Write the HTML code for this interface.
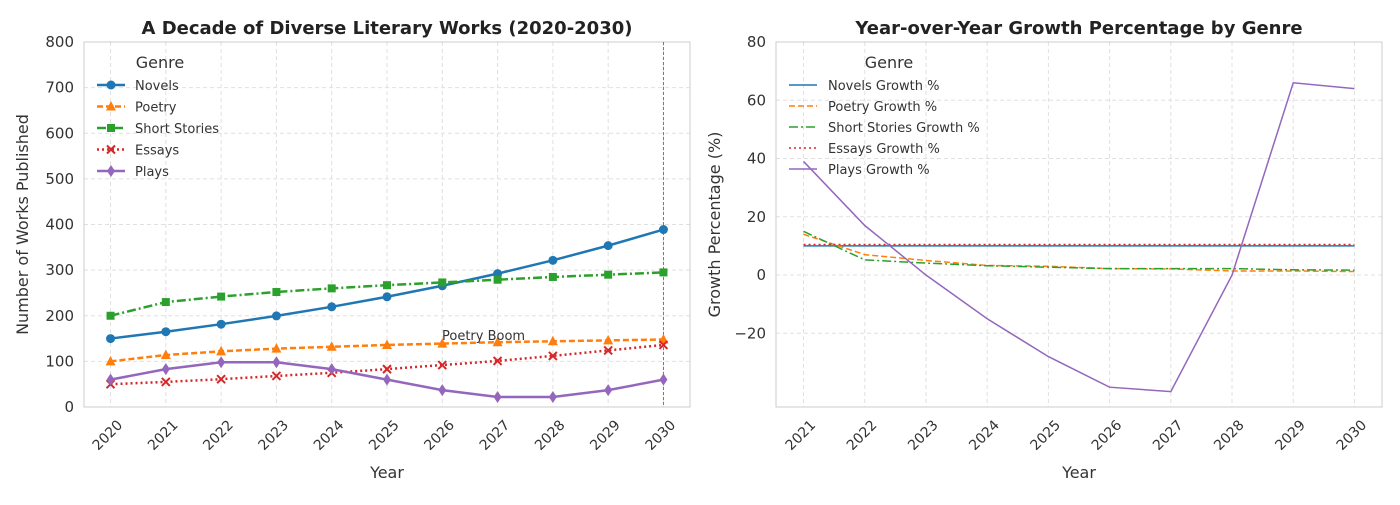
<!DOCTYPE html>
<html><head><meta charset="utf-8"><style>
body{margin:0;background:#fff;font-family:"Liberation Sans","DejaVu Sans",sans-serif;}
svg text{font-family:"DejaVu Sans","Liberation Sans",sans-serif;}
</style></head><body>
<svg id="c" width="1400" height="500"></svg>
<script>
const years=[2020,2021,2022,2023,2024,2025,2026,2027,2028,2029,2030];
const novels=[150,165,181.5,199.7,219.6,241.6,265.7,292.3,321.5,353.7,389];
const poetry=[100,114,122,128,132,136,139,142,144,146,148];
const shortStories=[200,230,242,252,260,267,273,279,285,290,295];
const essays=[50,55,61,68,75,83,92,101,112,124,136];
const plays=[60,83,98,98,83,60,37,22,22,37,60];
const leftTicks=[0,100,200,300,400,500,600,700,800];
const growthYears=[2021,2022,2023,2024,2025,2026,2027,2028,2029,2030];
const novelsG=[10,10,10,10,10,10,10,10,10,10];
const poetryG=[14,7,5,3.3,3,2.2,2.1,1.4,1.4,1.2];
const shortG=[15,5.2,4.1,3.2,2.7,2.2,2.2,2.2,1.8,1.7];
const essaysG=[10.5,10.5,10.5,10.5,10.5,10.5,10.5,10.5,10.5,10.5];
const playsG=[39,17,0,-15,-28,-38.5,-40,0,66,64];
const rightTicks=[-20,0,20,40,60,80];

const NS='http://www.w3.org/2000/svg',svg=document.getElementById('c');
function el(t,a,p){const e=document.createElementNS(NS,t);for(const k in a)e.setAttribute(k,a[k]);(p||svg).appendChild(e);return e;}
function txt(s,a,p){const e=el('text',a,p);e.textContent=s;return e;}

function axes(L,R,T,B,xs,xmin,xmax,ymin,ymax,yt,title,ylab){
 const X=v=>L+(v-xmin)/(xmax-xmin)*(R-L),Y=v=>B-(v-ymin)/(ymax-ymin)*(B-T);
 const g=el('g',{});
 
 
 xs.forEach(v=>{el('line',{x1:X(v),x2:X(v),y1:T,y2:B,stroke:'#e0e0e0','stroke-dasharray':'4,3'},g);
  const tx=X(v)+10,ty=B+20;
  const t=txt(v,{x:tx,y:ty,'font-size':14,fill:'#333','text-anchor':'end',transform:`rotate(-45 ${tx} ${ty-4})`},g);
  });
 yt.forEach(v=>{el('line',{x1:L,x2:R,y1:Y(v),y2:Y(v),stroke:'#e0e0e0','stroke-dasharray':'4,3'},g);
  const t=txt(String(v).replace('-','\u2212'),{x:L-10,y:Y(v)+5,'font-size':15,fill:'#333','text-anchor':'end'},g);
  });
 el('rect',{x:L,y:T,width:R-L,height:B-T,fill:'none',stroke:'#ccc'},g);
 const tt=txt(title,{x:(L+R)/2,y:T-8,'font-size':18,'font-weight':'bold',fill:'#222','text-anchor':'middle'},g);
 
 const xl=txt('Year',{x:(L+R)/2,y:478,'font-size':16,fill:'#333','text-anchor':'middle'},g);
 
 const yl=txt(ylab,{x:0,y:0,'font-size':16,fill:'#333','text-anchor':'middle',transform:`translate(${L-56},${(T+B)/2}) rotate(-90)`},g);
 
 return {X,Y};
}
function marker(type,x,y,c,g){
 if(type==='o')el('circle',{cx:x,cy:y,r:4.5,fill:c},g);
 else if(type==='^')el('polygon',{points:`${x},${y-5.5} ${x-5},${y+4} ${x+5},${y+4}`,fill:c},g);
 else if(type==='s')el('rect',{x:x-4,y:y-4,width:8,height:8,fill:c},g);
 else if(type==='x'){el('path',{d:`M${x-4} ${y-4}L${x+4} ${y+4}M${x-4} ${y+4}L${x+4} ${y-4}`,stroke:c,'stroke-width':2},g);}
 else if(type==='d')el('polygon',{points:`${x},${y-6} ${x-4},${y} ${x},${y+6} ${x+4},${y}`,fill:c},g);
}
const A=axes(84,690,42,407,years,2019.52,2030.48,0,800,leftTicks,'A Decade of Diverse Literary Works (2020-2030)','Number of Works Published');
el('line',{x1:A.X(2030),x2:A.X(2030),y1:42,y2:407,stroke:'#777','stroke-dasharray':'3,2','stroke-width':1});
const ls=[['Novels',novels,'#1f77b4','','o'],['Poetry',poetry,'#ff7f0e','6,3','^'],['Short Stories',shortStories,'#2ca02c','9,3,2,3','s'],['Essays',essays,'#d62728','2,3','x'],['Plays',plays,'#9467bd','','d']];
ls.forEach(([n,d,c,da,m],i)=>{const g=el('g',{});
 
 el('polyline',{points:d.map((v,j)=>A.X(years[j])+','+A.Y(v)).join(' '),fill:'none',stroke:c,'stroke-width':2.5,'stroke-dasharray':da},g);
 d.forEach((v,j)=>marker(m,A.X(years[j]),A.Y(v),c,g));
 const ly=85+i*21.5;const lg=el('g',{},g);
 el('line',{x1:97,x2:125,y1:ly,y2:ly,stroke:c,'stroke-width':2.5,'stroke-dasharray':da},lg);marker(m,111,ly,c,lg);
 txt(n,{x:135,y:ly+5,'font-size':13,fill:'#333'},lg);});
const lt=txt('Genre',{x:160,y:68,'font-size':16,fill:'#333','text-anchor':'middle'});
const an=txt('Poetry Boom',{x:442,y:340,'font-size':13,fill:'#333'});

const B=axes(776,1382,42,407,growthYears,2020.55,2030.45,-45.3,80,rightTicks,'Year-over-Year Growth Percentage by Genre','Growth Percentage (%)');
const rs=[['Novels Growth %',novelsG,'#1f77b4',''],['Poetry Growth %',poetryG,'#ff7f0e','6,3'],['Short Stories Growth %',shortG,'#2ca02c','9,3,2,3'],['Essays Growth %',essaysG,'#d62728','2,3'],['Plays Growth %',playsG,'#9467bd','']];
rs.forEach(([n,d,c,da],i)=>{const g=el('g',{});
 
 el('polyline',{points:d.map((v,j)=>B.X(growthYears[j])+','+B.Y(v)).join(' '),fill:'none',stroke:c,'stroke-width':1.5,'stroke-dasharray':da},g);
 const ly=85+i*21;const lg=el('g',{},g);
 el('line',{x1:789,x2:817,y1:ly,y2:ly,stroke:c,'stroke-width':1.5,'stroke-dasharray':da},lg);
 txt(n,{x:828,y:ly+5,'font-size':13,fill:'#333'},lg);});
const rt=txt('Genre',{x:889,y:68,'font-size':16,fill:'#333','text-anchor':'middle'});
</script></body></html>
